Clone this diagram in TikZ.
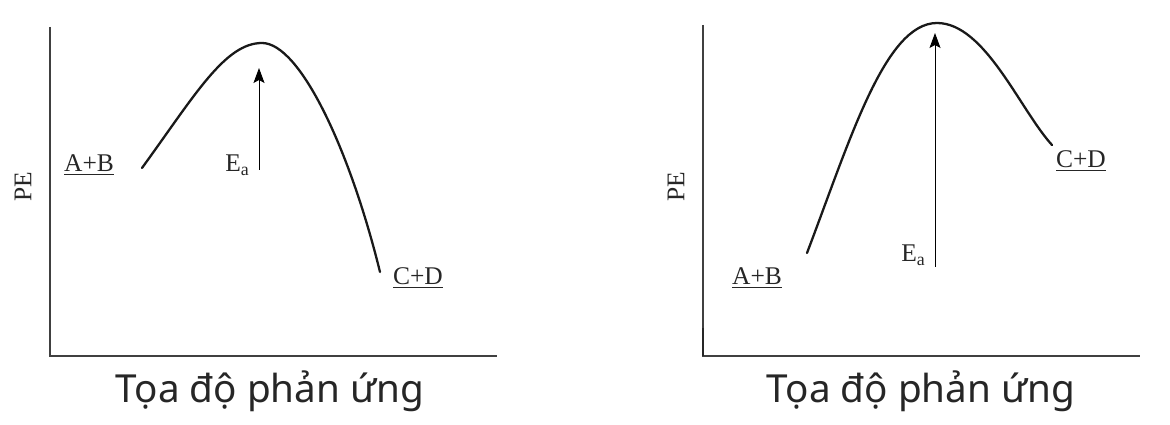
\documentclass[tikz,border=0pt]{standalone}
\usepackage{fontspec}
\setmainfont{Liberation Serif}
\newfontfamily\titlefont{Noto Sans}
\usepackage{tikz}
\usetikzlibrary{calc,arrows.meta,positioning}

\begin{document}
\begin{tikzpicture}[
  x=0.02cm, y=-0.02cm,
  axis/.style={draw=black!75, line width=0.6pt},
  pe/.style={line width=1.3pt, black!90, line cap=round},
  arr/.style={-{Stealth[length=3mm, width=2.2mm, inset=0.6mm]}, line width=0.5pt},
  lbl/.style={font=\fontsize{14.5}{16}\selectfont, inner sep=0pt, text=black!85},
  ttl/.style={font=\titlefont\fontsize{22}{26}\selectfont, text=black!85, inner sep=0pt}
]
\useasboundingbox (0,0) rectangle (1170,425);
% left diagram
\coordinate (o1) at (50,356);
\coordinate (t1) at (50,27);
\coordinate (r1) at (497,356);
\draw[axis] (t1) -- (o1) -- (r1);
\coordinate (ab1) at (142,168);
\coordinate (ts1) at (262,43);
\coordinate (cd1) at (380,272);
\draw[pe] (ab1) .. controls (195,95) and (225,43) .. (ts1)
          .. controls (300,43) and (350,150) .. (cd1);
\coordinate (eb1) at (259,170);
\coordinate (et1) at (259,68);
\draw[arr] (eb1) -- (et1);
\node[lbl, anchor=base east] (ea1) at (250,172) {E\textsubscript{a}};
\node[lbl, anchor=base] (rx1) at (89,172) {\underline{A+B}};
\node[lbl, anchor=base] (px1) at (418,285) {\underline{C+D}};
\node[lbl, rotate=90, anchor=center] (pe1) at (23,187) {PE};
\node[ttl, anchor=base] (x1) at (270,403) {Tọa độ phản ứng};
% right diagram
\coordinate (o2) at (703,356);
\coordinate (t2) at (703,25);
\coordinate (r2) at (1140,356);
\draw[axis] (t2) -- (o2) -- (r2);
\draw[line width=1.3pt, black!85] (703,328) -- (o2);
\coordinate (ab2) at (807,253);
\coordinate (ts2) at (937,23);
\coordinate (cd2) at (1052,145);
\draw[pe] (ab2) .. controls (850,140) and (885,23) .. (ts2)
          .. controls (985,23) and (1020,110) .. (cd2);
\coordinate (eb2) at (935,267);
\coordinate (et2) at (935,33);
\draw[arr] (eb2) -- (et2);
\node[lbl, anchor=base east] (ea2) at (926,262) {E\textsubscript{a}};
\node[lbl, anchor=base] (rx2) at (757,285) {\underline{A+B}};
\node[lbl, anchor=base] (px2) at (1081,168) {\underline{C+D}};
\node[lbl, rotate=90, anchor=center] (pe2) at (676,187) {PE};
\node[ttl, anchor=base] (x2) at (921,403) {Tọa độ phản ứng};
\end{tikzpicture}
\end{document}
